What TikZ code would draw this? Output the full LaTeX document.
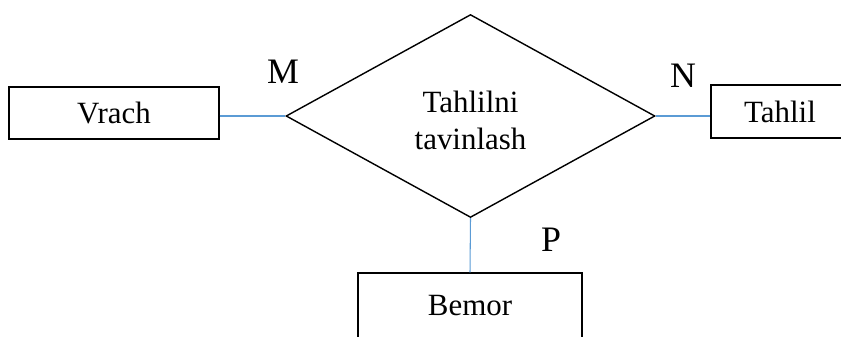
\documentclass[tikz,border=0pt]{standalone}
\usepackage{fontspec}
\setmainfont{Liberation Serif}
\usetikzlibrary{shapes.geometric}
\definecolor{linkblue}{RGB}{91,155,213}

\begin{document}
\begin{tikzpicture}[x=0.02cm,y=0.02cm,
        entity/.style={draw,rectangle,line width=0.8pt,inner sep=0pt,
            font=\fontsize{17.6pt}{21pt}\selectfont},
        rel/.style={draw,diamond,line width=0.8pt,inner sep=0pt,
            minimum width=7.38cm,minimum height=4.06cm,
            font=\fontsize{17.6pt}{21pt}\selectfont},
        card/.style={inner sep=0pt,font=\fontsize{20.4pt}{24pt}\selectfont},
        link/.style={draw=linkblue,line width=0.6pt}]
    \useasboundingbox (0,0) rectangle (841,336);
    \clip (0,0) rectangle (841,336);

    \node[entity,minimum width=4.2cm,minimum height=1.04cm] (vrach) at (114,223) {Vrach};
    \node[entity,minimum width=2.76cm,minimum height=1.06cm] (tahlil) at (780,224.5) {Tahlil};
    \node[entity,minimum width=4.48cm,minimum height=1.32cm] (bemor) at (470,30) {Bemor};

    \node[rel] (tav) at (470.5,220)
        {\raisebox{-0.15cm}[\height][\depth]{\begin{tabular}{@{}c@{}}Tahlilni\\tavinlash\end{tabular}}};

    \draw[link] (tav.west -| vrach.east) -- (tav.west);
    \draw[link] (tav.east) -- (tav.east -| tahlil.west);
    \draw[link] (tav.south) -- (bemor.north);

    \node[card] (m) at (283,264) {M};
    \node[card] (n) at (683,260) {N};
    \node[card] (p) at (551,96) {P};
\end{tikzpicture}
\end{document}
